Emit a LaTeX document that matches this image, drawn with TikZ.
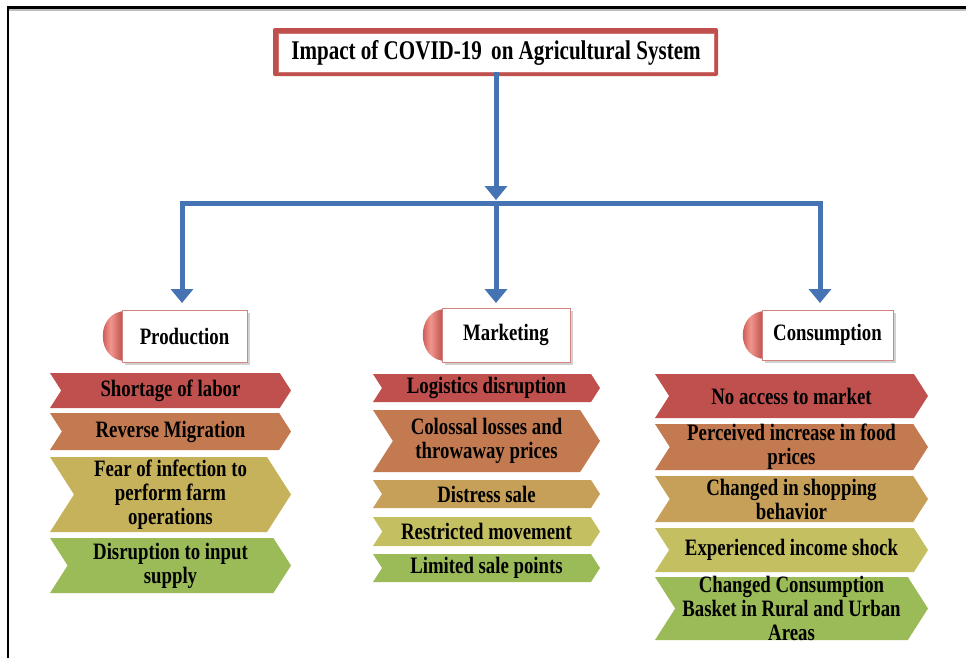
\documentclass[tikz,border=0pt]{standalone}
\usepackage{fontspec}
\setmainfont{Liberation Serif}
\newfontfamily\cond{Liberation Serif}[FakeStretch=0.8,BoldFeatures={FakeStretch=0.8}]
\newfontfamily\condt{Liberation Serif}[FakeStretch=0.78,BoldFeatures={FakeStretch=0.78}]
\usetikzlibrary{arrows.meta,shadows,calc}
\definecolor{cred}{RGB}{192,80,77}
\definecolor{corange}{RGB}{196,122,80}
\definecolor{ctan}{RGB}{198,160,88}
\definecolor{colive}{RGB}{198,178,90}
\definecolor{cyellow}{RGB}{196,192,98}
\definecolor{cgreen}{RGB}{155,187,89}
\definecolor{cblue}{RGB}{70,115,180}
\definecolor{tabdark}{RGB}{170,40,38}
\definecolor{tablight}{RGB}{240,150,140}
\tikzset{
  chevtext/.style={font={\cond\bfseries\fontsize{23.5}{24}\selectfont}, align=center, inner sep=0pt, text=black},
  cattext/.style={draw=cred!70, line width=0.8pt, fill=white, inner sep=0pt,
    font={\cond\bfseries\fontsize{23.5}{24}\selectfont},
    drop shadow={shadow xshift=2.5pt, shadow yshift=-2.5pt, opacity=0.35}},
  titlebox/.style={draw=cred!80, line width=0.6pt, fill=white, inner sep=0pt,
    minimum width=436pt, minimum height=39pt,
    font={\condt\bfseries\fontsize{27}{28}\selectfont}},
  barrow/.style={draw=cblue, line width=5pt, -{Triangle[width=22pt,length=14pt]}},
  bbar/.style={draw=cblue, line width=5pt, line cap=rect},
}
\newcommand\mychev[7]{%
  \pgfmathsetmacro\cd{0.32*(#5-#4)}%
  \pgfmathsetmacro\cm{(#4+#5)/2}%
  \pgfmathsetmacro\cx{(#2+#3)/2}%
  \fill[#6] (#2,#4) -- ({#3-\cd},#4) -- (#3,\cm) -- ({#3-\cd},#5) -- (#2,#5) -- ({#2+\cd},\cm) -- cycle;
  \node[chevtext] (#1) at (\cx,\cm) {#7};
}
\newcommand\mycat[6]{%
  \pgfmathsetmacro\bl{#2-#4/2}%
  \pgfmathsetmacro\bt{#3-#5/2}%
  \pgfmathsetmacro\bb{#3+#5/2}%
  \shade[left color=tabdark, right color=tabdark!90, middle color=tablight]
    ({\bl+4},{\bt+1}) .. controls ({\bl-27},{\bt+1}) and ({\bl-27},{\bb-1}) .. ({\bl+4},{\bb-1}) -- cycle;
  \node[cattext, minimum width=#4pt, minimum height=#5pt] (#1) at (#2,#3) {#6};
}
\begin{document}
\begin{tikzpicture}[x=1pt,y=-1pt]
\useasboundingbox (0,0) rectangle (966,657);
\clip (0,0) rectangle (966,657);
\fill[white] (0,0) rectangle (966,657);
% frame
\draw[gray!50, line width=1.5pt] (9,9.8) -- (1000,9.8);
\draw[black, line width=2.5pt] (8,700) -- (8,7.5) -- (1000,7.5);
% title
\fill[cred, rounded corners=2pt] (273,28) rectangle (718,76);
\node[titlebox] (title) at (496,52.5) {Impact of COVID-19\hspace{4pt} on Agricultural System};
% connectors
\coordinate (jm) at (496,200);
\coordinate (jl) at (182,203);
\coordinate (jc) at (496,203);
\coordinate (jr) at (820,203);
\coordinate (pl) at (182,303);
\coordinate (ml) at (496,303);
\coordinate (cl) at (820,303);
\draw[bbar] (jl) -- (jr);
\draw[barrow] (title.south) -- (jm);
\draw[barrow] (jl) -- (pl);
\draw[barrow] (jc) -- (ml);
\draw[barrow] (jr) -- (cl);
% categories
\mycat{prod}{184.5}{336}{125}{52}{Production}
\mycat{mark}{506}{335}{128}{54}{Marketing}
\mycat{cons}{827.5}{335}{131}{50}{Consumption}
% production
\mychev{p1}{50}{291}{373}{408}{cred}{Shortage of labor}
\mychev{p2}{50}{291}{413}{450}{corange}{Reverse Migration}
\mychev{p3}{50}{291}{457}{532}{colive}{Fear of infection to\\perform farm\\operations}
\mychev{p4}{50}{291}{538}{593}{cgreen}{Disruption to input\\supply}
% marketing
\mychev{m1}{373}{600}{374}{402}{cred}{Logistics disruption}
\mychev{m2}{373}{600}{410}{472}{corange}{Colossal losses and\\throwaway prices}
\mychev{m3}{373}{600}{480}{508}{ctan}{Distress sale}
\mychev{m4}{373}{600}{517}{546}{cyellow}{Restricted movement}
\mychev{m5}{373}{600}{554}{582}{cgreen}{Limited sale points}
% consumption
\mychev{c1}{655}{928}{374}{418}{cred}{No access to market}
\mychev{c2}{655}{928}{424}{470}{corange}{Perceived increase in food\\prices}
\mychev{c3}{655}{928}{476}{522}{ctan}{Changed in shopping\\behavior}
\mychev{c4}{655}{928}{528}{572}{cyellow}{Experienced income shock}
\mychev{c5}{655}{928}{577}{640}{cgreen}{Changed Consumption\\Basket in Rural and Urban\\Areas}
\end{tikzpicture}
\end{document}
